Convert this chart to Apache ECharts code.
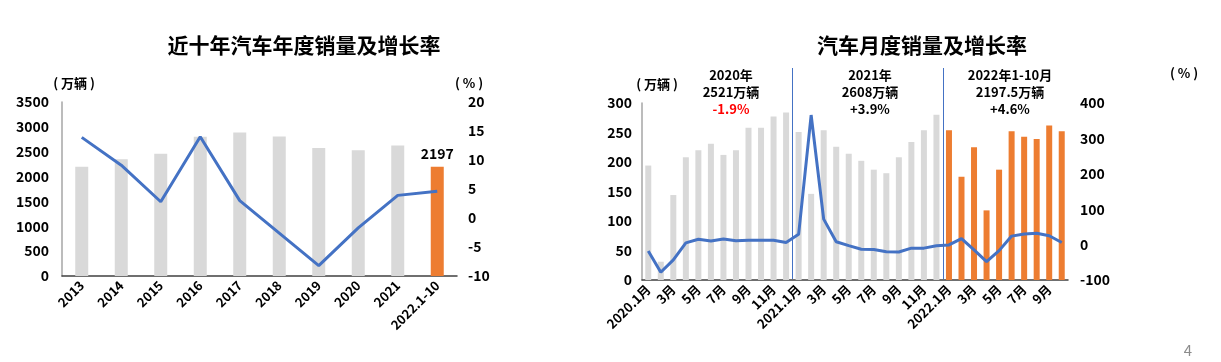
<!DOCTYPE html>
<html><head><meta charset="utf-8">
<script src="https://cdn.jsdelivr.net/npm/echarts@6/dist/echarts.min.js"></script>
<style>html,body{margin:0;padding:0;background:#fff}#c{width:1221px;height:362px}</style>
</head><body><div id="c"></div>
<script>
// ---- Data ----
const yearCats = ['2013','2014','2015','2016','2017','2018','2019','2020','2021','2022.1-10'];
const yearSales = [2198, 2349, 2460, 2803, 2888, 2808, 2577, 2531, 2627, 2197];
const yearGrowth = [13.9, 9.1, 2.8, 14.0, 3.0, -2.6, -8.2, -1.7, 3.9, 4.6];

const monthCats = ['2020.1月','2月','3月','4月','5月','6月','7月','8月','9月','10月','11月','12月',
  '2021.1月','2月','3月','4月','5月','6月','7月','8月','9月','10月','11月','12月',
  '2022.1月','2月','3月','4月','5月','6月','7月','8月','9月','10月'];
const monthSales = [194, 31, 144, 208, 220, 231, 212, 220, 258, 258, 277, 284,
  251, 146, 254, 226, 214, 202, 187, 181, 208, 234, 254, 280,
  254, 175, 225, 118, 187, 252, 243, 239, 262, 252];
const monthGrowth = [-18, -78, -43, 5, 15, 10, 16, 11, 12, 12, 12, 6,
  29, 366, 72, 8, -3, -13, -14, -20, -21, -10, -10, -3,
  -1, 17, -15, -48, -17, 24, 30, 32, 25, 6];

const annualAxis = {salesMin:0, salesMax:3500, salesStep:500, rateMin:-10, rateMax:20, rateStep:5};
const monthlyAxis = {salesMin:0, salesMax:300, salesStep:50, rateMin:-100, rateMax:400, rateStep:100};
const yearStartIdx = [12, 24]; // first month index of 2021 and 2022

const notes = [
  {lines:['2020年','2521万辆','-1.9%'], red:2},
  {lines:['2021年','2608万辆','+3.9%'], red:-1},
  {lines:['2022年1-10月','2197.5万辆','+4.6%'], red:-1}
];

// ---- Styles ----
const FONT = '"Noto Sans CJK SC","Noto Sans",sans-serif';
const GRAY = '#d9d9d9', ORANGE = '#ed7d31', BLUE = '#4472c4';
const tickLabel = {color:'#000', fontWeight:'bold', fontSize:14, fontFamily:FONT, formatter: v => String(v)};

const chart = echarts.init(document.getElementById('c'), null, {renderer:'canvas'});

function yAx(grid, min, max, step, showLine, margin){
  return {type:'value', gridIndex:grid, min:min, max:max, interval:step,
    splitLine:{show:false}, axisTick:{show:false},
    axisLine:{show:showLine, lineStyle:{color:'#a6a6a6', width:1.5}},
    axisLabel:Object.assign({margin:margin}, tickLabel)};
}

const noteGraphics = [];
const noteX = [731, 870, 1010];
notes.forEach((n, i) => {
  n.lines.forEach((t, j) => {
    noteGraphics.push({type:'text', id:'note'+i+'_'+j, x:noteX[i], y:75 + j*17,
      style:{text:t, fill: j===n.red ? '#ff0000' : '#000', font:'bold 13px ' + FONT,
        textAlign:'center', textVerticalAlign:'middle'}});
  });
});

const option = {
  animation:false,
  backgroundColor:'#fff',
  grid:[
    {left:62, top:102, width:395, height:174},
    {left:642, top:103, width:426, height:177}
  ],
  xAxis:[
    {type:'category', gridIndex:0, data:yearCats,
      axisLine:{lineStyle:{color:'#404040', width:1.5}}, axisTick:{show:false},
      axisLabel:{rotate:45, interval:0, margin:7, color:'#000', fontWeight:'bold', fontSize:13, fontFamily:FONT}},
    {type:'category', gridIndex:1, data:monthCats,
      axisLine:{lineStyle:{color:'#404040', width:1.5}}, axisTick:{show:false},
      axisLabel:{rotate:45, interval:1, margin:7, color:'#000', fontWeight:'bold', fontSize:13, fontFamily:FONT}}
  ],
  yAxis:[
    yAx(0, annualAxis.salesMin, annualAxis.salesMax, annualAxis.salesStep, true, 13),
    yAx(0, annualAxis.rateMin, annualAxis.rateMax, annualAxis.rateStep, false, 11),
    yAx(1, monthlyAxis.salesMin, monthlyAxis.salesMax, monthlyAxis.salesStep, true, 10),
    yAx(1, monthlyAxis.rateMin, monthlyAxis.rateMax, monthlyAxis.rateStep, false, 12)
  ],
  series:[
    {type:'bar', xAxisIndex:0, yAxisIndex:0, barWidth:13,
      data: yearSales.map((v, i) => {
        const last = i === yearSales.length - 1;
        return {value:v, itemStyle:{color: last ? ORANGE : GRAY},
          label: last ? {show:true, position:'top', distance:6, color:'#000', fontWeight:'bold', fontSize:14, fontFamily:FONT} : {show:false}};
      })},
    {type:'line', xAxisIndex:0, yAxisIndex:1, symbol:'none', z:5,
      lineStyle:{color:BLUE, width:3},
      data: yearGrowth.map((v, i) => {
        const last = i === yearGrowth.length - 1;
        return last ? {value:v, label:{show:true, position:'right', distance:8, color:'#000', fontWeight:'bold', fontSize:14, fontFamily:FONT}} : v;
      })},
    {type:'bar', xAxisIndex:1, yAxisIndex:2, barWidth:6,
      data: monthSales.map((v, i) => ({value:v, itemStyle:{color: i >= yearStartIdx[1] ? ORANGE : GRAY}}))},
    {type:'line', xAxisIndex:1, yAxisIndex:3, symbol:'none', z:5,
      lineStyle:{color:BLUE, width:3}, data: monthGrowth}
  ],
  graphic: [
    {type:'text', id:'t1', x:304, y:45, style:{text:'近十年汽车年度销量及增长率', fill:'#000', font:'bold 21px ' + FONT, textAlign:'center', textVerticalAlign:'middle'}},
    {type:'text', id:'t2', x:922, y:45, style:{text:'汽车月度销量及增长率', fill:'#000', font:'bold 21px ' + FONT, textAlign:'center', textVerticalAlign:'middle'}},
    {type:'text', id:'u1', x:74, y:83, style:{text:'( 万辆 )', fill:'#000', font:'bold 13px ' + FONT, textAlign:'center', textVerticalAlign:'middle'}},
    {type:'text', id:'u2', x:469, y:83, style:{text:'( % )', fill:'#000', font:'bold 13px ' + FONT, textAlign:'center', textVerticalAlign:'middle'}},
    {type:'text', id:'u3', x:657, y:84, style:{text:'( 万辆 )', fill:'#000', font:'bold 13px ' + FONT, textAlign:'center', textVerticalAlign:'middle'}},
    {type:'text', id:'u4', x:1184, y:73, style:{text:'( % )', fill:'#000', font:'bold 13px ' + FONT, textAlign:'center', textVerticalAlign:'middle'}},
    {type:'text', id:'pg', x:1188, y:350, style:{text:'4', fill:'#8c8c8c', font:'15px ' + FONT, textAlign:'center', textVerticalAlign:'middle'}}
  ].concat(noteGraphics)
};
chart.setOption(option);

// separator lines between years on the monthly chart, from the category scale (by index)
const seps = [];
const yb = chart.convertToPixel({yAxisIndex:2}, 0);
yearStartIdx.forEach((idx, k) => {
  const a = chart.convertToPixel({xAxisIndex:1}, idx - 1);
  const b = chart.convertToPixel({xAxisIndex:1}, idx);
  const x = Math.round((a + b) / 2) + 0.5;
  seps.push({type:'line', id:'sep'+k, shape:{x1:x, y1:68, x2:x, y2:yb - 1}, style:{stroke:BLUE, lineWidth:1}, z:1});
});
chart.setOption({graphic: seps});
</script>
</body></html>
